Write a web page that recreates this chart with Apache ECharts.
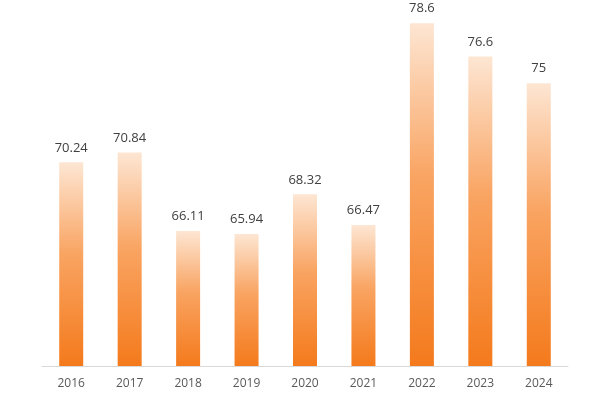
<!DOCTYPE html>
<html>
<head>
<meta charset="utf-8">
<script src="https://cdn.jsdelivr.net/npm/echarts@6/dist/echarts.min.js"></script>
<style>html,body{margin:0;padding:0;background:#fff}#c{width:600px;height:400px}</style>
</head>
<body>
<div id="c"></div>
<script>
const years = ['2016','2017','2018','2019','2020','2021','2022','2023','2024'];
const values = [70.24, 70.84, 66.11, 65.94, 68.32, 66.47, 78.6, 76.6, 75];
const labels = ['70.24','70.84','66.11','65.94','68.32','66.47','78.6','76.6','75'];

const chart = echarts.init(document.getElementById('c'));
chart.setOption({
  animation: false,
  backgroundColor: '#ffffff',
  grid: { left: 42, right: 32, top: 0, bottom: 34 },
  xAxis: {
    type: 'category',
    data: years,
    axisLine: { lineStyle: { color: '#d9d9d9', width: 1 } },
    axisTick: { show: false },
    axisLabel: { color: '#595959', fontSize: 12, margin: 12, fontFamily: 'Open Sans' }
  },
  yAxis: {
    type: 'value',
    min: 58, max: 80,
    show: false,
    splitLine: { show: false }
  },
  series: [{
    type: 'bar',
    data: values,
    barWidth: 24,
    itemStyle: {
      color: new echarts.graphic.LinearGradient(0, 0, 0, 1, [
        { offset: 0, color: '#fde6d3' },
        { offset: 0.45, color: '#f9a462' },
        { offset: 1, color: '#f47a1c' }
      ])
    },
    label: {
      show: true,
      position: 'top',
      distance: 8,
      color: '#404040',
      fontSize: 13,
      fontFamily: 'Open Sans',
      formatter: p => labels[p.dataIndex]
    }
  }]
});
</script>
</body>
</html>
